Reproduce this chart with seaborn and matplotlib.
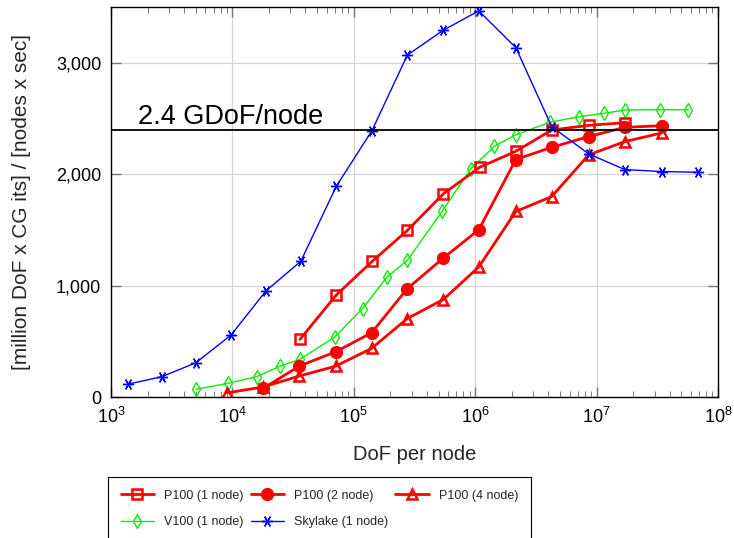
import numpy as np
import pandas as pd
import matplotlib
matplotlib.use("Agg")
import matplotlib.pyplot as plt
import seaborn as sns
from matplotlib.ticker import FixedLocator, FuncFormatter, LogLocator, NullFormatter

# ---------------- data ----------------
p100_1_x = [3.6e4, 7.18e4, 1.42e5, 2.76e5, 5.46e5, 1.09e6, 2.16e6, 4.27e6, 8.6e6, 1.71e7]
p100_1_y = [517, 916, 1218, 1495, 1823, 2062, 2205, 2396, 2438, 2462]

p100_2_x = [1.8e4, 3.55e4, 7.1e4, 1.4e5, 2.76e5, 5.46e5, 1.07e6, 2.16e6, 4.27e6, 8.6e6, 1.71e7, 3.44e7]
p100_2_y = [78, 277, 406, 576, 973, 1247, 1501, 2131, 2241, 2337, 2420, 2435]

p100_4_x = [9.08e3, 1.8e4, 3.55e4, 7.1e4, 1.4e5, 2.76e5, 5.46e5, 1.07e6, 2.16e6, 4.27e6, 8.6e6, 1.71e7, 3.44e7]
p100_4_y = [38, 90, 188, 277, 436, 704, 875, 1167, 1665, 1799, 2173, 2292, 2370]

v100_x = [5.0e3, 9.26e3, 1.58e4, 2.47e4, 3.6e4, 7.0e4, 1.18e5, 1.88e5, 2.76e5, 5.35e5,
          9.2e5, 1.44e6, 2.15e6, 4.1e6, 7.2e6, 1.14e7, 1.71e7, 3.33e7, 5.69e7]
v100_y = [69, 123, 182, 277, 338, 540, 794, 1077, 1226, 1668,
          2047, 2250, 2352, 2465, 2516, 2545, 2576, 2578, 2578]

sky_x = [1.39e3, 2.62e3, 4.99e3, 9.73e3, 1.89e4, 3.66e4, 7.18e4, 1.41e5, 2.76e5, 5.46e5,
         1.07e6, 2.16e6, 4.27e6, 8.6e6, 1.71e7, 3.44e7, 6.8e7]
sky_y = [116, 182, 307, 555, 952, 1218, 1892, 2390, 3068, 3292,
         3465, 3136, 2426, 2182, 2041, 2023, 2017]

labels = ["P100 (1 node)", "P100 (2 node)", "P100 (4 node)", "V100 (1 node)", "Skylake (1 node)"]
y_ticks = [0, 1000, 2000, 3000]
ref_value = 2400
ref_text = "2.4 GDoF/node"

# ---------------- style ----------------
sns.set_theme(style="white")
plt.rcParams["font.family"] = ["Liberation Sans", "DejaVu Sans"]
plt.rcParams["mathtext.fontset"] = "custom"
plt.rcParams["mathtext.rm"] = "Liberation Sans"
plt.rcParams["mathtext.it"] = "Liberation Sans"

fig = plt.figure(figsize=(7.34, 5.38), dpi=100)
ax = fig.add_axes([111 / 734, 1 - 397 / 538, (718 - 111) / 734, (397 - 7) / 538])

red = "#ff0000"
green = "#00f000"
blue = "#0000ff"

handles = {}

def draw(x, y, label, **kw):
    df = pd.DataFrame({"x": x, "y": y})
    sns.lineplot(data=df, x="x", y="y", ax=ax, sort=False, label=label, legend=False, **kw)
    handles[label] = ax.lines[-1]

draw(v100_x, v100_y, labels[3], color=green, lw=1.0, marker="d", ms=7.5,
     mfc="none", mec=green, mew=1.0)
draw(p100_4_x, p100_4_y, labels[2], color=red, lw=2.0, marker="^", ms=7.0,
     mfc="none", mec=red, mew=1.8)
draw(p100_2_x, p100_2_y, labels[1], color=red, lw=2.0, marker="o", ms=8.5,
     mfc=red, mec=red, mew=1.0)
draw(p100_1_x, p100_1_y, labels[0], color=red, lw=2.0, marker="s", ms=7.5,
     mfc="none", mec=red, mew=1.8)
draw(sky_x, sky_y, labels[4], color=blue, lw=1.0, marker=(6, 2, 90), ms=8,
     mec=blue, mew=1.0)

ax.axhline(ref_value, color="black", lw=1.3, zorder=3)
ax.text(1667, 2453, ref_text, fontsize=19.5, va="baseline", ha="left", color="black")

ax.set_xscale("log")
ax.set_xlim(1e3, 1e8)
ax.set_ylim(0, 3500)

ax.xaxis.set_major_locator(LogLocator(base=10, numticks=10))
ax.xaxis.set_minor_locator(LogLocator(base=10, subs=np.arange(2, 10), numticks=20))
ax.xaxis.set_minor_formatter(NullFormatter())
ax.yaxis.set_major_locator(FixedLocator(y_ticks))
ax.yaxis.set_major_formatter(FuncFormatter(lambda v, p: f"{v:,.0f}"))

ax.grid(True, which="major", color="#d4d4d4", lw=0.9)
ax.set_axisbelow(True)
ax.tick_params(which="both", direction="in", top=True, right=True, bottom=True, left=True,
               colors="#777777", labelcolor="black")
ax.tick_params(which="major", length=7, width=1.0, labelsize=13, pad=7)
ax.tick_params(which="minor", length=4.5, width=0.7)
for s in ax.spines.values():
    s.set_color("black")
    s.set_linewidth(1.0)

ax.set_xlabel("DoF per node", fontsize=14.5, labelpad=13)
ax.set_ylabel("[million DoF x CG its] / [nodes x sec]", fontsize=15, labelpad=18)

order = [labels[0], labels[3], labels[1], labels[4], labels[2]]
leg = fig.legend([handles[l] for l in order], order, loc="upper left",
                 bbox_to_anchor=(108 / 734, 1 - 477 / 538), ncol=3, fontsize=9.0,
                 frameon=True, fancybox=False, framealpha=1, edgecolor="black",
                 borderpad=1.0, labelspacing=1.2, handlelength=2.7,
                 handletextpad=0.8, columnspacing=0.55, borderaxespad=0)
leg.get_frame().set_linewidth(0.8)

fig.savefig("out.png", dpi=100)
